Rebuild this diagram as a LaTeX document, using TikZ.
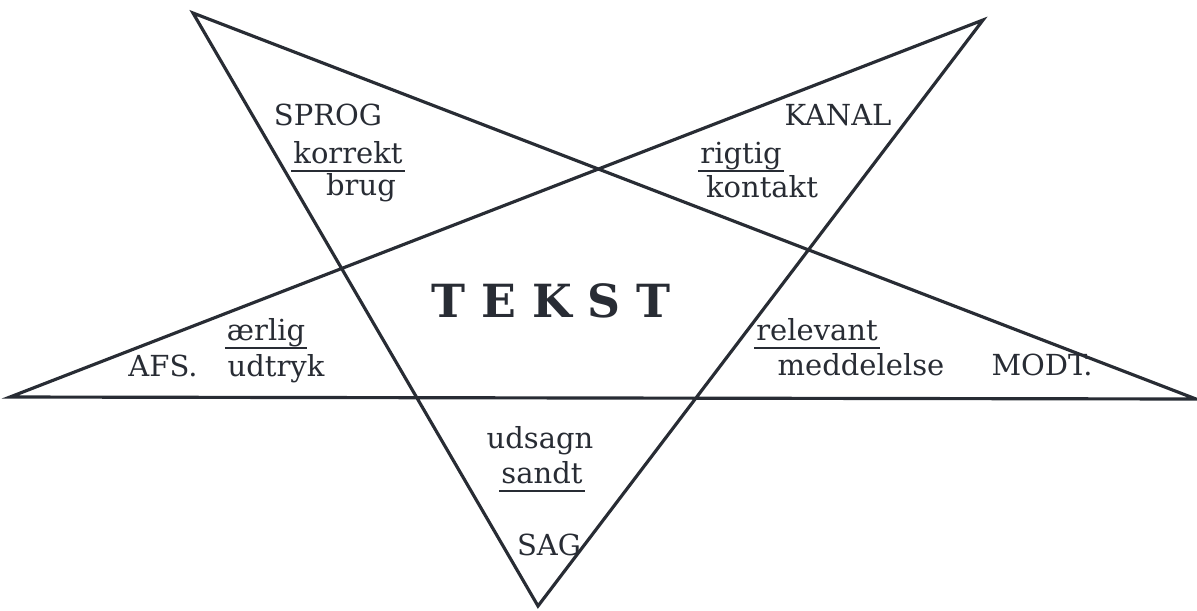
\documentclass[tikz,border=0pt]{standalone}
\usepackage{fontspec}
\setmainfont{DejaVu Serif}
\definecolor{ink}{RGB}{40,44,52}
\tikzset{
  word/.style={anchor=base, inner sep=1pt, text=ink, font=\fontsize{16.5}{19}\selectfont},
  ul/.style={draw=ink, line width=1.3pt},
  star/.style={draw=ink, line width=1.8pt, line join=miter}
}
\begin{document}
\begin{tikzpicture}[x=0.02cm, y=0.02cm]
      \useasboundingbox (0,0) rectangle (1197,-610);
      \coordinate (A) at (193,-13);
      \coordinate (B) at (983,-20);
      \coordinate (L) at (10,-397);
      \coordinate (R) at (1196,-399);
      \coordinate (S) at (538,-606);
      \draw[star] (A) -- (S) -- (B) -- (L) -- (R) -- cycle;
      % upper left point
      \node[word] (sprog) at (328,-125) {SPROG};
      \node[word] (korrekt) at (348,-163) {korrekt};
      \node[word] (brug) at (361,-195) {brug};
      % upper right point
      \node[word] (kanal) at (838,-125) {KANAL};
      \node[word] (rigtig) at (741,-163) {rigtig};
      \node[word] (kontakt) at (762,-197) {kontakt};
      % left point
      \node[word] (aerlig) at (266,-340) {ærlig};
      \node[word] (afs) at (163,-376) {AFS.};
      \node[word] (udtryk) at (276,-376) {udtryk};
      % right point
      \node[word] (relevant) at (817,-340) {relevant};
      \node[word] (meddelelse) at (861,-375) {meddelelse};
      \node[word] (modt) at (1042,-375) {MODT.};
      % lower point
      \node[word] (udsagn) at (540,-448) {udsagn};
      \node[word] (sandt) at (542,-483) {sandt};
      \node[word] (sag) at (549,-555) {SAG};
      % centre
      \node[word, font=\bfseries\fontsize{26}{30}\selectfont] (tekst) at (551,-317)
        {T\hspace{0.35em}E\hspace{0.35em}K\hspace{0.35em}S\hspace{0.35em}T};
      \draw[ul] ([yshift=-0.16cm]korrekt.base west) -- ([yshift=-0.16cm]korrekt.base east);
      \draw[ul] ([yshift=-0.16cm]rigtig.base west) -- ([yshift=-0.16cm]rigtig.base east);
      \draw[ul] ([yshift=-0.16cm]aerlig.base west) -- ([yshift=-0.16cm]aerlig.base east);
      \draw[ul] ([yshift=-0.16cm]relevant.base west) -- ([yshift=-0.16cm]relevant.base east);
      \draw[ul] ([yshift=-0.16cm]sandt.base west) -- ([yshift=-0.16cm]sandt.base east);
\end{tikzpicture}
\end{document}
